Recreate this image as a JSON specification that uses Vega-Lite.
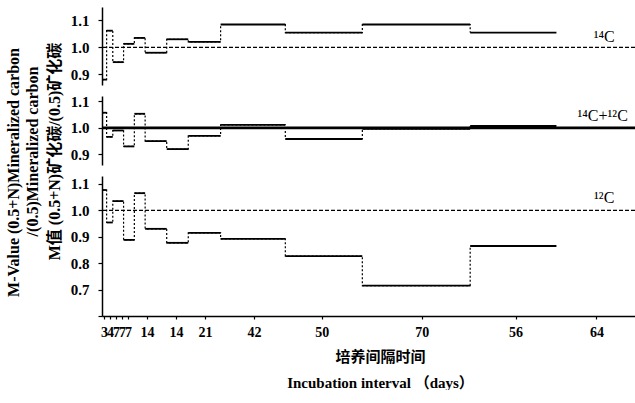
{
  "$schema": "https://vega.github.io/schema/vega-lite/v6.json",
  "padding": {"left": 5, "top": 7, "right": 0, "bottom": 0},
  "background": "white",
  "bounds": "flush",
  "spacing": 11,
  "config": {
    "view": {"stroke": null},
    "font": "Liberation Serif, Noto Sans CJK SC",
    "axis": {
      "labelFont": "Liberation Serif",
      "titleFont": "Liberation Serif, Noto Sans CJK SC",
      "domainColor": "black",
      "tickColor": "black",
      "labelColor": "black",
      "titleColor": "black",
      "grid": false,
      "domainWidth": 1.5,
      "tickWidth": 1.2,
      "labelOverlap": false
    }
  },
  "datasets": {
    "steps": [
      {"panel": "14C", "start": 0, "end": 3, "value": 0.88},
      {"panel": "14C", "start": 3, "end": 7, "value": 1.062},
      {"panel": "14C", "start": 7, "end": 14, "value": 0.945},
      {"panel": "14C", "start": 14, "end": 21, "value": 1.013},
      {"panel": "14C", "start": 21, "end": 28, "value": 1.035},
      {"panel": "14C", "start": 28, "end": 42, "value": 0.98},
      {"panel": "14C", "start": 42, "end": 56, "value": 1.03},
      {"panel": "14C", "start": 56, "end": 77, "value": 1.02},
      {"panel": "14C", "start": 77, "end": 119, "value": 1.085},
      {"panel": "14C", "start": 119, "end": 169, "value": 1.055},
      {"panel": "14C", "start": 169, "end": 239, "value": 1.085},
      {"panel": "14C", "start": 239, "end": 295, "value": 1.055},
      {"panel": "14C+12C", "start": 0, "end": 3, "value": 1.057},
      {"panel": "14C+12C", "start": 3, "end": 7, "value": 0.966},
      {"panel": "14C+12C", "start": 7, "end": 14, "value": 0.99},
      {"panel": "14C+12C", "start": 14, "end": 21, "value": 0.93},
      {"panel": "14C+12C", "start": 21, "end": 28, "value": 1.053},
      {"panel": "14C+12C", "start": 28, "end": 42, "value": 0.95},
      {"panel": "14C+12C", "start": 42, "end": 56, "value": 0.92},
      {"panel": "14C+12C", "start": 56, "end": 77, "value": 0.97},
      {"panel": "14C+12C", "start": 77, "end": 119, "value": 1.011},
      {"panel": "14C+12C", "start": 119, "end": 169, "value": 0.958},
      {"panel": "14C+12C", "start": 169, "end": 239, "value": 0.996},
      {"panel": "14C+12C", "start": 239, "end": 295, "value": 1.007},
      {"panel": "12C", "start": 0, "end": 3, "value": 1.077},
      {"panel": "12C", "start": 3, "end": 7, "value": 0.954},
      {"panel": "12C", "start": 7, "end": 14, "value": 1.035},
      {"panel": "12C", "start": 14, "end": 21, "value": 0.888},
      {"panel": "12C", "start": 21, "end": 28, "value": 1.065},
      {"panel": "12C", "start": 28, "end": 42, "value": 0.93},
      {"panel": "12C", "start": 42, "end": 56, "value": 0.877},
      {"panel": "12C", "start": 56, "end": 77, "value": 0.915},
      {"panel": "12C", "start": 77, "end": 119, "value": 0.892},
      {"panel": "12C", "start": 119, "end": 169, "value": 0.827},
      {"panel": "12C", "start": 169, "end": 239, "value": 0.715},
      {"panel": "12C", "start": 239, "end": 295, "value": 0.865}
    ]
  },
  "vconcat": [
    {
      "width": 533,
      "height": 78,
      "layer": [
        {
          "data": {"name": "steps"},
          "transform": [{"filter": "datum.panel == '14C'"}],
          "mark": {"type": "line", "interpolate": "step-after", "strokeDash": [2, 2], "strokeWidth": 1.2, "color": "black"},
          "encoding": {
            "x": {"field": "start", "type": "quantitative", "scale": {"domain": [0, 346], "nice": false, "zero": false}, "axis": null},
            "y": {"field": "value", "type": "quantitative", "scale": {"domain": [0.86, 1.15], "nice": false, "zero": false},
              "axis": {"tickCount": 3, "format": ".1f", "labelOverlap": false, "labelFontSize": 15, "labelFontWeight": "bold", "tickSize": 4, "labelPadding": 9,
                "title": "M-Value  (0.5+N)Mineralized carbon", "titleFontSize": 16, "titleFontWeight": "bold",
                "titleX": -89, "titleY": 165, "titleAlign": "center", "titleBaseline": "middle", "titleAngle": -90}}
          }
        },
        {
          "data": {"values": [{}]},
          "mark": {"type": "rule", "strokeDash": [4, 2], "strokeWidth": 1.3, "color": "black"},
          "encoding": {"y": {"datum": 1.0, "type": "quantitative"}}
        },
        {
          "data": {"name": "steps"},
          "transform": [{"filter": "datum.panel == '14C'"}],
          "mark": {"type": "rule", "strokeWidth": 1.8, "color": "black"},
          "encoding": {
            "x": {"field": "start", "type": "quantitative"},
            "x2": {"field": "end"},
            "y": {"field": "value", "type": "quantitative"}
          }
        },
        {
          "data": {"values": [{}]},
          "mark": {"type": "text", "fontSize": 16, "font": "Liberation Serif", "dy": -10, "color": "black"},
          "encoding": {"x": {"datum": 326, "type": "quantitative"}, "y": {"datum": 1.0, "type": "quantitative"}, "text": {"value": "¹⁴C"}}
        }
      ]
    },
    {
      "width": 533,
      "height": 69,
      "layer": [
        {
          "data": {"name": "steps"},
          "transform": [{"filter": "datum.panel == '14C+12C'"}],
          "mark": {"type": "line", "interpolate": "step-after", "strokeDash": [2, 2], "strokeWidth": 1.2, "color": "black"},
          "encoding": {
            "x": {"field": "start", "type": "quantitative", "scale": {"domain": [0, 346], "nice": false, "zero": false}, "axis": null},
            "y": {"field": "value", "type": "quantitative", "scale": {"domain": [0.86, 1.12], "nice": false, "zero": false},
              "axis": {"tickCount": 3, "format": ".1f", "labelOverlap": false, "labelFontSize": 15, "labelFontWeight": "bold", "tickSize": 4, "labelPadding": 9,
                "title": "/(0.5)Mineralized carbon", "titleFontSize": 16, "titleFontWeight": "bold",
                "titleX": -70, "titleY": 55, "titleAlign": "center", "titleBaseline": "middle", "titleAngle": -90}}
          }
        },
        {
          "data": {"values": [{}]},
          "mark": {"type": "rule", "strokeWidth": 2.6, "color": "black"},
          "encoding": {"y": {"datum": 1.0, "type": "quantitative"}}
        },
        {
          "data": {"name": "steps"},
          "transform": [{"filter": "datum.panel == '14C+12C'"}],
          "mark": {"type": "rule", "strokeWidth": 1.8, "color": "black"},
          "encoding": {
            "x": {"field": "start", "type": "quantitative"},
            "x2": {"field": "end"},
            "y": {"field": "value", "type": "quantitative"}
          }
        },
        {
          "data": {"values": [{}]},
          "mark": {"type": "text", "fontSize": 16, "font": "Liberation Serif", "dy": -12, "color": "black"},
          "encoding": {"x": {"datum": 325, "type": "quantitative"}, "y": {"datum": 1.0, "type": "quantitative"}, "text": {"value": "¹⁴C+¹²C"}}
        }
      ]
    },
    {
      "width": 533,
      "height": 140,
      "layer": [
        {
          "data": {"name": "steps"},
          "transform": [{"filter": "datum.panel == '12C'"}],
          "mark": {"type": "line", "interpolate": "step-after", "strokeDash": [2, 2], "strokeWidth": 1.2, "color": "black"},
          "encoding": {
            "x": {"field": "start", "type": "quantitative", "scale": {"domain": [0, 346], "nice": false, "zero": false},
              "axis": {"values": [1.3, 5.2, 9.1, 13, 16.9, 29.2, 48, 66.8, 98.6, 142.7, 207.5, 268.5, 321],
                "labelExpr": "datum.value < 3 ? '3' : datum.value < 7 ? '4' : datum.value < 20 ? '7' : datum.value < 60 ? '14' : datum.value < 80 ? '21' : datum.value < 120 ? '42' : datum.value < 170 ? '50' : datum.value < 240 ? '70' : datum.value < 300 ? '56' : '64'",
                "labelOverlap": false, "labelFontSize": 14, "labelFontWeight": "bold", "tickSize": 3, "labelPadding": 6,
                "title": ["培养间隔时间", "Incubation interval （days）"], "titleFontSize": 15, "titleFontWeight": "bold",
                "titleLineHeight": 26, "titleX": 278, "titleAlign": "center", "titlePadding": 10}},
            "y": {"field": "value", "type": "quantitative", "scale": {"domain": [0.6, 1.13], "nice": false, "zero": false},
              "axis": {"tickCount": 5, "labelExpr": "datum.value < 0.65 ? '' : format(datum.value, '.1f')", "labelOverlap": false, "labelFontSize": 15, "labelFontWeight": "bold", "tickSize": 4, "labelPadding": 9,
                "title": "M值  (0.5+N)矿化碳/(0.5)矿化碳", "titleFontSize": 16, "titleFontWeight": "bold",
                "titleX": -48, "titleY": -25, "titleAlign": "center", "titleBaseline": "middle", "titleAngle": -90}}
          }
        },
        {
          "data": {"values": [{}]},
          "mark": {"type": "rule", "strokeDash": [4, 2], "strokeWidth": 1.3, "color": "black"},
          "encoding": {"y": {"datum": 1.0, "type": "quantitative"}}
        },
        {
          "data": {"name": "steps"},
          "transform": [{"filter": "datum.panel == '12C'"}],
          "mark": {"type": "rule", "strokeWidth": 1.8, "color": "black"},
          "encoding": {
            "x": {"field": "start", "type": "quantitative"},
            "x2": {"field": "end"},
            "y": {"field": "value", "type": "quantitative"}
          }
        },
        {
          "data": {"values": [{}]},
          "mark": {"type": "text", "fontSize": 16, "font": "Liberation Serif", "dy": -12, "color": "black"},
          "encoding": {"x": {"datum": 326, "type": "quantitative"}, "y": {"datum": 1.0, "type": "quantitative"}, "text": {"value": "¹²C"}}
        }
      ]
    }
  ]
}
